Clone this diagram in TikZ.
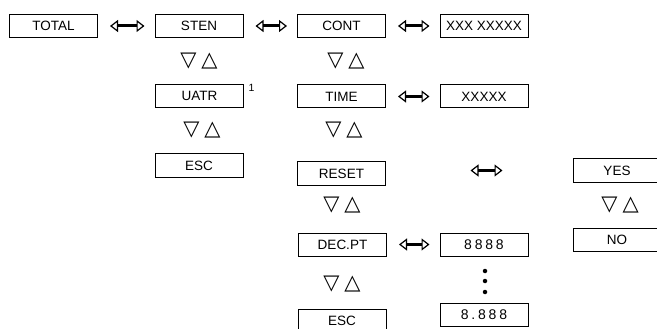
\documentclass[tikz,border=0pt]{standalone}
\usepackage{fontspec}
\setmainfont{Liberation Sans}
\newfontfamily\symfont{DejaVu Sans}
\newfontfamily\digitfont[LetterSpace=20]{Liberation Sans}
\usetikzlibrary{arrows.meta}

\begin{document}
\begin{tikzpicture}[x=1pt,y=-1pt]
  \tikzset{menubox/.style={draw=black,line width=1pt,minimum width=88pt,minimum height=23pt,inner sep=0pt,font=\fontsize{13.5}{15}\selectfont}}
  \tikzset{digitbox/.style={menubox,font=\digitfont\fontsize{14}{16}\selectfont}}
  \tikzset{updown/.style={inner sep=0pt,font=\symfont\bfseries\fontsize{21}{23}\selectfont}}
  \tikzset{supmark/.style={inner sep=0pt,font=\fontsize{10.5}{12}\selectfont}}
  \tikzset{ellipsisdot/.style={circle,fill=black,inner sep=0pt,minimum size=4.5pt}}
  \tikzset{swaparrow/.style={draw=black,line width=3pt,shorten <=12pt,shorten >=10pt,
    {Triangle[open,length=8pt,width=12pt,line width=1.2pt]}-{Triangle[open,length=8pt,width=12pt,line width=1.2pt]}}}
  \clip (0,0) rectangle (657,329);
  % menu boxes
  \node[menubox] (total) at (53.5,26) {TOTAL};
  \node[menubox] (sten) at (199,26) {STEN};
  \node[menubox] (cont) at (341.5,26) {CONT};
  \node[menubox] (contval) at (484,26) {XXX XXXXX};
  \node[menubox] (uatr) at (199.5,96) {UATR};
  \node[menubox] (time) at (341.5,96.5) {TIME};
  \node[menubox] (timeval) at (484,96.5) {XXXXX};
  \node[menubox] (escone) at (199,165.5) {ESC};
  \node[menubox] (reset) at (341.5,173.5) {RESET};
  \node[menubox] (yes) at (617,170.5) {YES};
  \node[menubox] (decpt) at (342.5,244.5) {DEC.PT};
  \node[digitbox] (dpone) at (484,244.5) {8888};
  \node[menubox] (no) at (617,240) {NO};
  \node[menubox] (esctwo) at (342,320.5) {ESC};
  \node[digitbox] (dptwo) at (484,315) {8.888};
  \node[supmark,anchor=north west,xshift=4.5pt] (uatrmark) at (uatr.north east) {1};
  % up/down keys
  \node[updown] (ud0) at (199,61.5) {▽\hspace{5pt}△};
  \node[updown] (ud1) at (346,61.5) {▽\hspace{5pt}△};
  \node[updown] (ud2) at (202,130) {▽\hspace{5pt}△};
  \node[updown] (ud3) at (344,130) {▽\hspace{5pt}△};
  \node[updown] (ud4) at (342,205.5) {▽\hspace{5pt}△};
  \node[updown] (ud5) at (342,284) {▽\hspace{5pt}△};
  \node[updown] (ud6) at (620,205.5) {▽\hspace{5pt}△};
  % vertical ellipsis
  \node[ellipsisdot] (dot0) at (485,271) {};
  \node[ellipsisdot] (dot1) at (485,281) {};
  \node[ellipsisdot] (dot2) at (485,292) {};
  % left/right keys
  \draw[swaparrow] (total) -- (sten);
  \draw[swaparrow] (sten) -- (cont);
  \draw[swaparrow] (cont) -- (contval);
  \draw[swaparrow] (time) -- (timeval);
  \draw[swaparrow] (decpt) -- (dpone);
  \draw[swaparrow,shorten <=84.5pt,shorten >=70pt] (reset.east |- yes.west) -- (yes.west);
\end{tikzpicture}
\end{document}
